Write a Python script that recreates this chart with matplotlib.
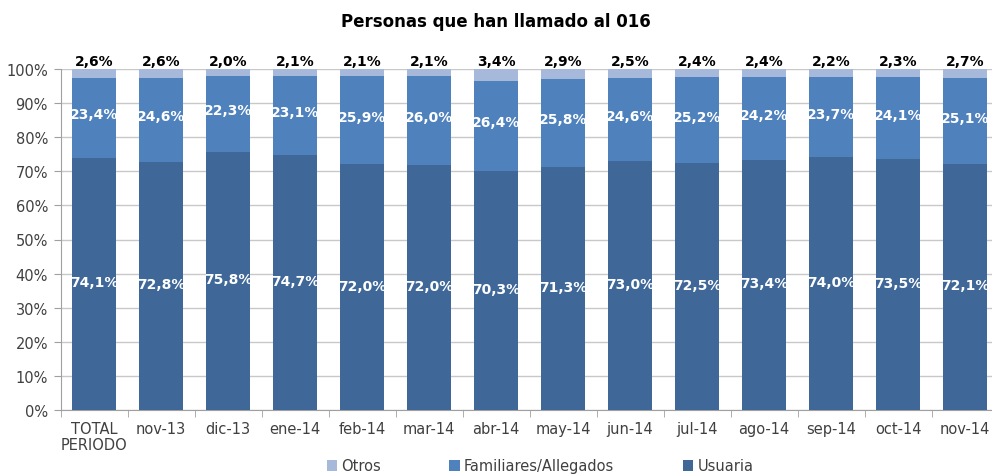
import matplotlib
matplotlib.use("Agg")
import matplotlib.pyplot as plt
import numpy as np

categories = ["TOTAL\nPERIODO", "nov-13", "dic-13", "ene-14", "feb-14", "mar-14", "abr-14",
              "may-14", "jun-14", "jul-14", "ago-14", "sep-14", "oct-14", "nov-14"]
usuaria = [74.1, 72.8, 75.8, 74.7, 72.0, 72.0, 70.3, 71.3, 73.0, 72.5, 73.4, 74.0, 73.5, 72.1]
familiares = [23.4, 24.6, 22.3, 23.1, 25.9, 26.0, 26.4, 25.8, 24.6, 25.2, 24.2, 23.7, 24.1, 25.1]
otros = [2.6, 2.6, 2.0, 2.1, 2.1, 2.1, 3.4, 2.9, 2.5, 2.4, 2.4, 2.2, 2.3, 2.7]

c_us = "#3F6899"
c_fam = "#4F81BD"
c_ot = "#A7B9DB"

plt.rcParams['font.family'] = ['DejaVu Sans']

W, H = 992, 477
fig = plt.figure(figsize=(W/100, H/100), dpi=100)
left, right = 60.5, 998.5
top, bottom = 70, 411
ax = fig.add_axes([left/W, 1-bottom/H, (right-left)/W, (bottom-top)/H])

x = np.arange(len(categories))
us = np.array(usuaria)
fa = np.array(familiares)
ot = np.array(otros)
tot = us + fa + ot
# normalize to 100% stacked
us_n = us / tot * 100
fa_n = fa / tot * 100
ot_n = ot / tot * 100

bw = 0.67
ax.bar(x, us_n, bw, color=c_us, label="Usuaria", zorder=3)
ax.bar(x, fa_n, bw, bottom=us_n, color=c_fam, label="Familiares/Allegados", zorder=3)
ax.bar(x, ot_n, bw, bottom=us_n+fa_n, color=c_ot, label="Otros", zorder=3)

fs = 10
for i in range(len(x)):
    ax.text(x[i], us_n[i]/2 + 0.5, f"{usuaria[i]:.1f}%".replace(".", ","), ha="center", va="center",
            color="white", fontsize=fs, fontweight="bold", zorder=4)
    ax.text(x[i], us_n[i] + fa_n[i]/2 + 1, f"{familiares[i]:.1f}%".replace(".", ","), ha="center", va="center",
            color="white", fontsize=fs, fontweight="bold", zorder=4)
    ax.text(x[i], 100.3, f"{otros[i]:.1f}%".replace(".", ","), ha="center", va="bottom",
            color="black", fontsize=fs, fontweight="bold", zorder=4)

ax.set_xlim(-0.5, len(x)-0.5)
ax.set_ylim(0, 100)
ax.set_yticks(np.arange(0, 101, 10))
ax.set_yticklabels([f"{v}%" for v in range(0, 101, 10)], fontsize=10.5, color="#404040")
ax.yaxis.grid(True, color="#C8C8C8", linewidth=1, zorder=0)
ax.set_axisbelow(True)
ax.set_xticks(x)
ax.set_xticklabels(categories, fontsize=10.5, color="#404040", linespacing=1.1)
ax.set_xticks(np.arange(-0.5, len(x), 1), minor=True)
ax.tick_params(axis="x", which="major", length=0, pad=8)
ax.tick_params(axis="x", which="minor", length=5, color="#A0A0A0")
ax.tick_params(axis="y", length=5, color="#A0A0A0", pad=4)
for s in ["top", "right"]:
    ax.spines[s].set_visible(False)
for s in ["left", "bottom"]:
    ax.spines[s].set_color("#A0A0A0")

fig.text(0.5, 1-22/H, "Personas que han llamado al 016", ha="center", va="center",
         fontsize=12, fontweight="bold", color="black")

handles, labels = ax.get_legend_handles_labels()
order = [2, 1, 0]
leg = fig.legend([handles[i] for i in order], [labels[i] for i in order],
                 loc="center", bbox_to_anchor=(540/W, 1-467/H), ncol=3, frameon=False,
                 fontsize=10.5, handlelength=0.7, handleheight=0.7, handletextpad=0.3,
                 columnspacing=4.7)
for t in leg.get_texts():
    t.set_color("#404040")

fig.savefig("out.png", dpi=100)
